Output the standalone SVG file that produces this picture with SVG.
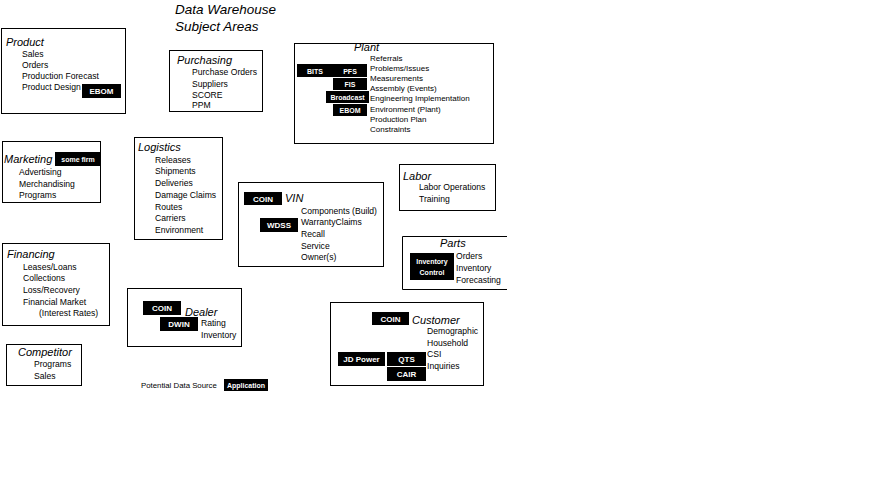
<svg xmlns="http://www.w3.org/2000/svg" width="890" height="486" viewBox="0 0 890 486">
<style>
.bg{fill:#fff}
.box{fill:#fff;stroke:#000;stroke-width:1}
.ln{stroke:#000;stroke-width:1;fill:none}
.blk{fill:#000}
.ttl{font-family:"Liberation Sans",Arial,sans-serif;font-size:13.5px;font-style:italic;fill:#000}
.hd{font-family:"Liberation Sans",Arial,sans-serif;font-size:11px;font-style:italic;fill:#000}
.it{font-family:"Liberation Sans",Arial,sans-serif;font-size:8.6px;fill:#000}
.pl{font-family:"Liberation Sans",Arial,sans-serif;font-size:8px;fill:#000}
.wt{font-family:"Liberation Sans",Arial,sans-serif;font-size:8px;font-weight:bold;fill:#fff;text-anchor:middle}
.ws{font-family:"Liberation Sans",Arial,sans-serif;font-size:7px;font-weight:bold;fill:#fff;text-anchor:middle}
.lg{font-family:"Liberation Sans",Arial,sans-serif;font-size:7.8px;fill:#000}
</style>
<rect class="bg" x="0" y="0" width="890" height="486"/>
<g id="title">
<text class="ttl" x="175" y="14">Data Warehouse</text>
<text class="ttl" x="175" y="31">Subject Areas</text>
</g>
<g id="connectors"></g>
<g id="product">
<rect class="box" x="1.5" y="28.5" width="124" height="85"/>
<text class="hd" x="6" y="46">Product</text>
<text class="it" x="22" y="57">Sales</text>
<text class="it" x="22" y="68">Orders</text>
<text class="it" x="22" y="79">Production Forecast</text>
<text class="it" x="22" y="90">Product Design</text>
<rect class="blk" x="82" y="84" width="39" height="14"/>
<text class="wt" x="101.5" y="94">EBOM</text>
</g>
<g id="purchasing">
<rect class="box" x="169.5" y="50.5" width="93" height="61"/>
<text class="hd" x="177" y="64">Purchasing</text>
<text class="it" x="192" y="75">Purchase Orders</text>
<text class="it" x="192" y="87">Suppliers</text>
<text class="it" x="192" y="98">SCORE</text>
<text class="it" x="192" y="108">PPM</text>
</g>
<g id="plant">
<rect class="box" x="294.5" y="43.5" width="199" height="100"/>
<text class="hd" x="354" y="51">Plant</text>
<text class="pl" x="370" y="61">Referrals</text>
<text class="pl" x="370" y="71">Problems/Issues</text>
<text class="pl" x="370" y="81">Measurements</text>
<text class="pl" x="370" y="91">Assembly (Events)</text>
<text class="pl" x="370" y="101">Engineering Implementation</text>
<text class="pl" x="370" y="112">Environment (Plant)</text>
<text class="pl" x="370" y="122">Production Plan</text>
<text class="pl" x="370" y="132">Constraints</text>
<rect class="blk" x="297" y="64" width="36" height="13"/>
<text class="ws" x="315" y="73.5">BITS</text>
<rect class="blk" x="333" y="64" width="34" height="13"/>
<text class="ws" x="350" y="73.5">PFS</text>
<rect class="blk" x="333" y="78" width="34" height="12"/>
<text class="ws" x="350" y="87">FIS</text>
<rect class="blk" x="326" y="91" width="43" height="12"/>
<text class="ws" x="347.5" y="100">Broadcast</text>
<rect class="blk" x="333" y="104" width="34" height="12"/>
<text class="ws" x="350" y="113">EBOM</text>
</g>
<g id="marketing">
<rect class="box" x="2.5" y="141.5" width="98" height="61"/>
<text class="hd" x="4" y="163">Marketing</text>
<rect class="blk" x="55" y="152" width="46" height="14"/>
<text class="ws" x="78" y="162">some firm</text>
<text class="it" x="19" y="175">Advertising</text>
<text class="it" x="19" y="187">Merchandising</text>
<text class="it" x="19" y="198">Programs</text>
</g>
<g id="logistics">
<rect class="box" x="134.5" y="137.5" width="88" height="102"/>
<text class="hd" x="138" y="151">Logistics</text>
<text class="it" x="155" y="163">Releases</text>
<text class="it" x="155" y="174">Shipments</text>
<text class="it" x="155" y="186">Deliveries</text>
<text class="it" x="155" y="198">Damage Claims</text>
<text class="it" x="155" y="210">Routes</text>
<text class="it" x="155" y="221">Carriers</text>
<text class="it" x="155" y="233">Environment</text>
</g>
<g id="labor">
<rect class="box" x="399.5" y="164.5" width="96" height="46"/>
<text class="hd" x="403" y="180">Labor</text>
<text class="it" x="419" y="190">Labor Operations</text>
<text class="it" x="419" y="202">Training</text>
</g>
<g id="vin">
<rect class="box" x="238.5" y="182.5" width="145" height="84"/>
<rect class="blk" x="244" y="192" width="38" height="13"/>
<text class="wt" x="263" y="201.5">COIN</text>
<text class="hd" x="285" y="202">VIN</text>
<text class="it" x="301" y="214">Components (Build)</text>
<text class="it" x="301" y="225">WarrantyClaims</text>
<text class="it" x="301" y="237">Recall</text>
<text class="it" x="301" y="249">Service</text>
<text class="it" x="301" y="260">Owner(s)</text>
<rect class="blk" x="260" y="218" width="38" height="14"/>
<text class="wt" x="279" y="228">WDSS</text>
</g>
<g id="parts">
<path class="ln" d="M507 236.5H402.5V289.5H507"/>
<text class="hd" x="440" y="247">Parts</text>
<rect class="blk" x="410" y="253" width="44" height="27"/>
<text class="ws" x="432" y="264">Inventory</text>
<text class="ws" x="432" y="275">Control</text>
<text class="it" x="456" y="259">Orders</text>
<text class="it" x="456" y="271">Inventory</text>
<text class="it" x="456" y="283">Forecasting</text>
</g>
<g id="financing">
<rect class="box" x="2.5" y="243.5" width="107" height="82"/>
<text class="hd" x="7" y="258">Financing</text>
<text class="it" x="23" y="270">Leases/Loans</text>
<text class="it" x="23" y="281">Collections</text>
<text class="it" x="23" y="293">Loss/Recovery</text>
<text class="it" x="23" y="305">Financial Market</text>
<text class="it" x="39" y="316">(Interest Rates)</text>
</g>
<g id="dealer">
<rect class="box" x="127.5" y="288.5" width="114" height="58"/>
<rect class="blk" x="143" y="301" width="38" height="14"/>
<text class="wt" x="162" y="311">COIN</text>
<text class="hd" x="185" y="316">Dealer</text>
<rect class="blk" x="160" y="317" width="38" height="14"/>
<text class="wt" x="179" y="327">DWIN</text>
<text class="it" x="201" y="326">Rating</text>
<text class="it" x="201" y="338">Inventory</text>
</g>
<g id="competitor">
<rect class="box" x="6.5" y="344.5" width="75" height="41"/>
<text class="hd" x="18" y="356">Competitor</text>
<text class="it" x="34" y="367">Programs</text>
<text class="it" x="34" y="379">Sales</text>
</g>
<g id="customer">
<rect class="box" x="330.5" y="302.5" width="153" height="83"/>
<rect class="blk" x="372" y="312" width="37" height="13"/>
<text class="wt" x="390.5" y="321.5">COIN</text>
<text class="hd" x="412" y="324">Customer</text>
<text class="it" x="427" y="334">Demographic</text>
<text class="it" x="427" y="346">Household</text>
<text class="it" x="427" y="357">CSI</text>
<text class="it" x="427" y="369">Inquiries</text>
<rect class="blk" x="338" y="352" width="47" height="14"/>
<text class="wt" x="361.5" y="362">JD Power</text>
<rect class="blk" x="387" y="352" width="39" height="14"/>
<text class="wt" x="406.5" y="362">QTS</text>
<rect class="blk" x="387" y="367" width="39" height="14"/>
<text class="wt" x="406.5" y="377">CAIR</text>
</g>
<g id="legend">
<text class="lg" x="141" y="388">Potential Data Source</text>
<rect class="blk" x="224" y="379" width="44" height="12"/>
<text class="ws" x="246" y="387.5">Application</text>
</g>
</svg>
